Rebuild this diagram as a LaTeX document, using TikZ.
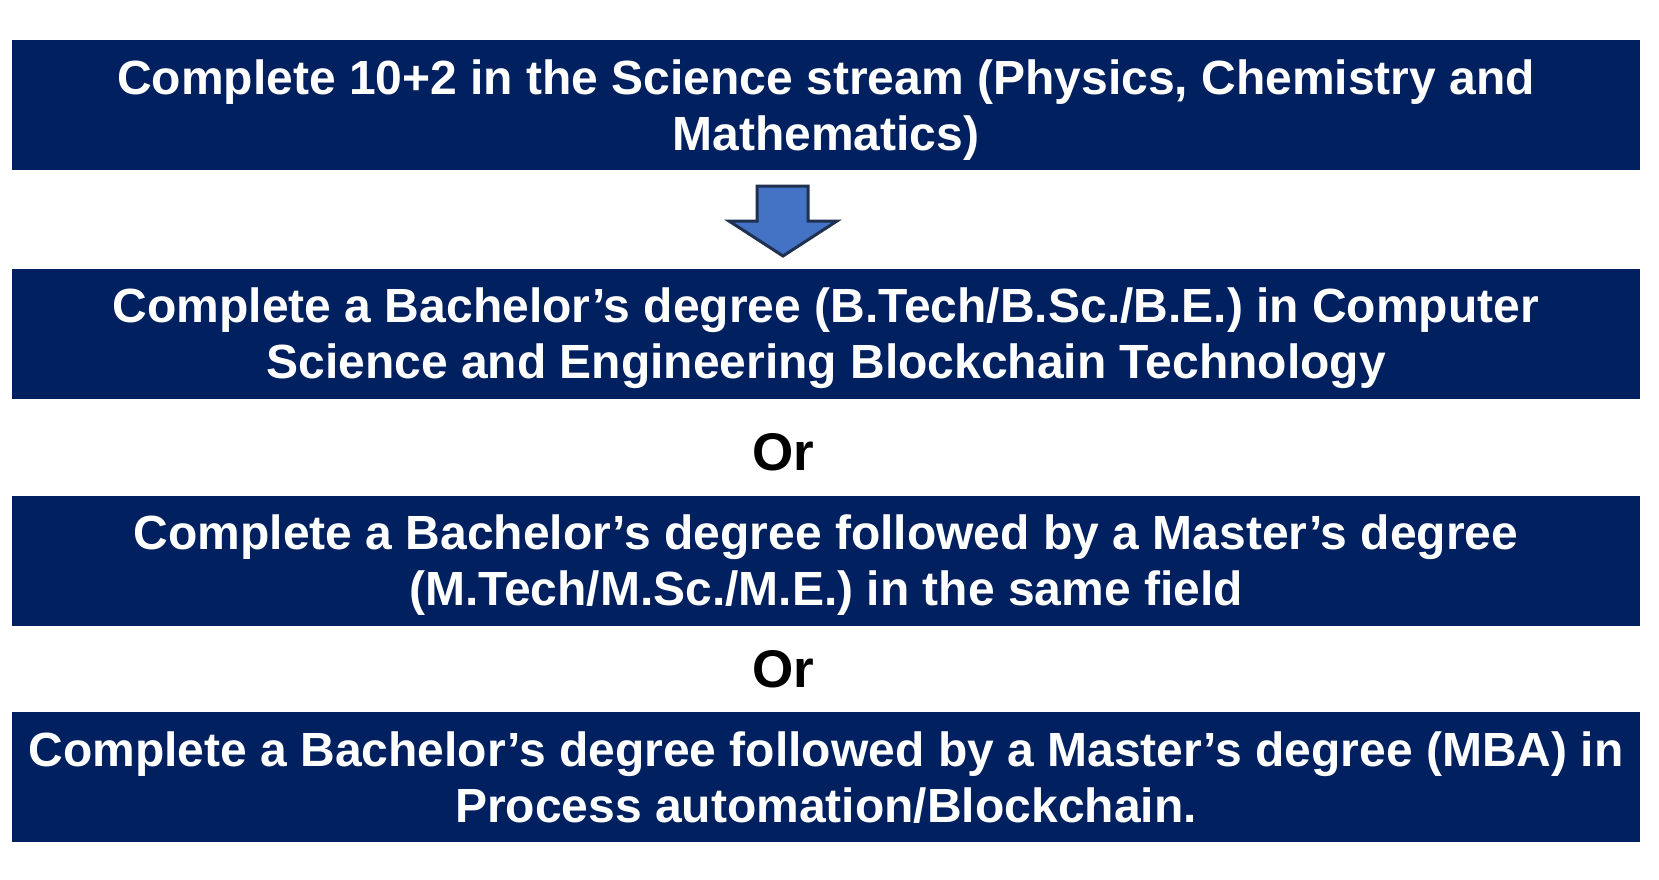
\documentclass[tikz,border=0pt]{standalone}
\usepackage{fontspec}
\setmainfont{Liberation Sans}
\definecolor{navybox}{HTML}{002060}
\definecolor{arrowfill}{HTML}{4472C4}
\definecolor{arrowline}{HTML}{1F3050}
\tikzset{
  stepbox/.style={fill=navybox, text=white, minimum width=814pt, minimum height=65pt,
    inner sep=0pt, align=center, text depth=0pt,
    font=\fontsize{24}{28}\selectfont\bfseries},
  orlabel/.style={text=black, inner sep=0pt, font=\fontsize{26.5}{30}\selectfont\bfseries}
}
\begin{document}
\begin{tikzpicture}[x=0.5pt, y=-0.5pt]
  \useasboundingbox (0,0) rectangle (1659,879);
  \node[stepbox] (twelfth) at (826,105)
    {Complete 10+2 in the Science stream (Physics, Chemistry and\\Mathematics)};
  \node[stepbox] (bachelor) at (826,333.5)
    {Complete a Bachelor’s degree (B.Tech/B.Sc./B.E.) in Computer\\Science and Engineering Blockchain Technology};
  \node[orlabel] (or1) at (783,452) {Or};
  \node[stepbox] (master) at (826,560.5)
    {Complete a Bachelor’s degree followed by a Master’s degree\\(M.Tech/M.Sc./M.E.) in the same field};
  \node[orlabel] (or2) at (783,669) {Or};
  \node[stepbox] (mba) at (826,777)
    {Complete a Bachelor’s degree followed by a Master’s degree (MBA) in\\Process automation/Blockchain.};
  % block arrow
  \draw[fill=arrowfill, draw=arrowline, line width=1.5pt, line join=miter]
    (757,186) -- (808,186) -- (808,221) -- (837,221) -- (783,256)
    -- (729,221) -- (757,221) -- cycle;
\end{tikzpicture}
\end{document}
